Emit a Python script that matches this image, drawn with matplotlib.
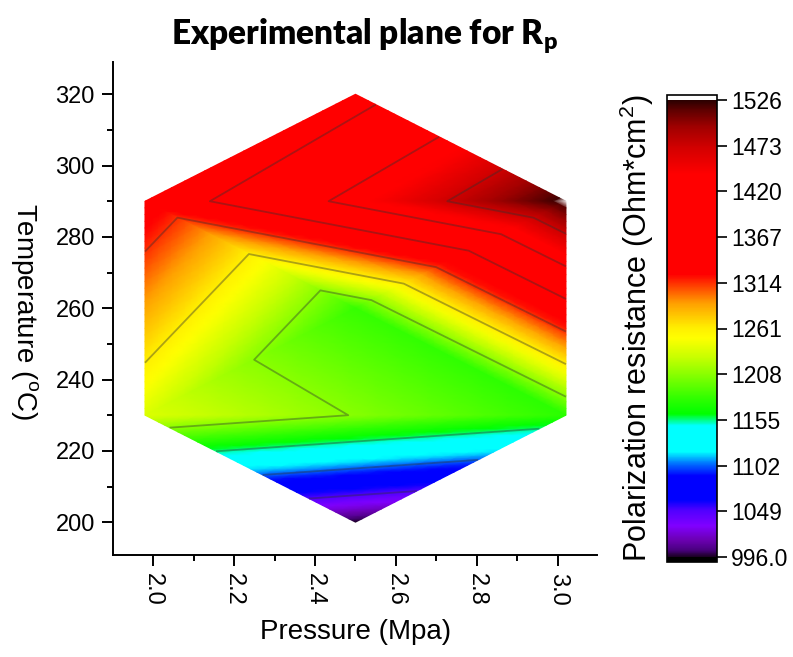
import numpy as np
import matplotlib.pyplot as plt
import matplotlib.tri as mtri
from matplotlib.colors import LinearSegmentedColormap, Normalize
from matplotlib.cm import ScalarMappable
from matplotlib.ticker import MultipleLocator

plt.rcParams['font.family'] = ['Liberation Sans', 'DejaVu Sans']
plt.rcParams['mathtext.default'] = 'regular'

# Doehlert design: pressure (MPa), temperature (C) and measured Rp
pressure = [2.50, 1.98, 3.02, 2.50, 1.98, 3.02, 2.50]
temperature = [320, 290, 290, 260, 230, 230, 200]
rp = [1350, 1338, 1526, 1182, 1236, 1178, 996]
triangles = [[0, 1, 2], [1, 3, 2], [1, 4, 3], [2, 3, 5], [4, 5, 3], [4, 6, 5]]

contour_levels = [1049, 1102, 1155, 1208, 1261, 1314, 1367, 1420, 1473]
cbar_ticks = [996, 1049, 1102, 1155, 1208, 1261, 1314, 1367, 1420, 1473, 1526]
cbar_labels = ['996.0', '1049', '1102', '1155', '1208', '1261', '1314',
               '1367', '1420', '1473', '1526']
x_ticks = [2.0, 2.2, 2.4, 2.6, 2.8, 3.0]
y_ticks = [200, 220, 240, 260, 280, 300, 320]

# colour stops of the Origin-like palette
stop_values = [996, 1004, 1015, 1032, 1050, 1062, 1090, 1104, 1118, 1148, 1162,
               1180, 1210, 1228, 1250, 1262, 1290, 1324, 1440, 1470, 1495, 1514, 1526]
stop_colors = ['#1a0020', '#4a0080', '#6a00b0', '#8000ff', '#5000ff', '#0000ff',
               '#0000ff', '#0070ff', '#00ffff', '#00ffff', '#00ff00', '#30ff00',
               '#90ff00', '#c8ff00', '#ffff00', '#ffee00', '#ffa000', '#ff0000',
               '#ff0000', '#d40000', '#a00000', '#600000', '#2a0000']
vmin, vmax = stop_values[0], stop_values[-1]
cmap = LinearSegmentedColormap.from_list(
    'origin', [((v - vmin) / (vmax - vmin), c) for v, c in zip(stop_values, stop_colors)], N=1024)
cmap.set_over('white')
cmap.set_under('black')
norm = Normalize(vmin, vmax)

fig = plt.figure(figsize=(7.93, 6.57), dpi=100)
ax = fig.add_axes([0.1425, 0.155, 0.610, 0.7504])

tri = mtri.Triangulation(pressure, temperature, triangles)
z = np.array(rp, dtype=float)
refiner = mtri.UniformTriRefiner(tri)
fine_tri, fine_z = refiner.refine_field(z, triinterpolator=mtri.LinearTriInterpolator(tri, z), subdiv=5)
ax.tripcolor(fine_tri, fine_z, shading='gouraud', cmap=cmap, norm=norm)
ax.tricontour(tri, z, levels=contour_levels, colors='#303030', alpha=0.4, linewidths=1.3)

ax.set_xlim(1.901, 3.096)
ax.set_ylim(190.75, 329)
for s in ['top', 'right']:
    ax.spines[s].set_visible(False)
for s in ['left', 'bottom']:
    ax.spines[s].set_linewidth(1.4)

ax.set_xticks(x_ticks)
ax.set_xticklabels([f'{v:.1f}' for v in x_ticks], rotation=270)
ax.set_yticks(y_ticks)
ax.xaxis.set_minor_locator(MultipleLocator(0.1))
ax.yaxis.set_minor_locator(MultipleLocator(10))
ax.tick_params(which='major', direction='out', length=8, width=1.4, labelsize=17, pad=5)
ax.tick_params(which='minor', direction='out', length=4.5, width=1.4)

ax.set_xlabel('Pressure (Mpa)', fontsize=20, va='center')
ax.xaxis.set_label_coords(0.502, -0.156)
ax.set_ylabel('Temperature ($^o$C)', fontsize=20, rotation=270, va='center', ha='center')
ax.yaxis.set_label_coords(-0.182, 0.493)

fig.text(0.46, 0.944, 'Experimental plane for R$_p$', ha='center', va='center',
         fontsize=24, fontweight='heavy', family='Lato')

# colour scale
cax = fig.add_axes([0.841, 0.1446, 0.063, 0.7108])
sm = ScalarMappable(norm=norm, cmap=cmap)
cb = fig.colorbar(sm, cax=cax, extend='both', extendrect=True, extendfrac=0.011, ticks=cbar_ticks)
cb.ax.set_yticklabels(cbar_labels)
cb.ax.tick_params(length=7, width=1.2, labelsize=16.5, pad=3)
cb.outline.set_linewidth(1.2)
cb.ax.yaxis.set_label_position('left')
cb.ax.set_ylabel('Polarization resistance (Ohm*cm$^2$)', fontsize=22, va='center', ha='center')
cb.ax.yaxis.set_label_coords(-0.6, 0.5)

plt.savefig('out.png', dpi=100)
